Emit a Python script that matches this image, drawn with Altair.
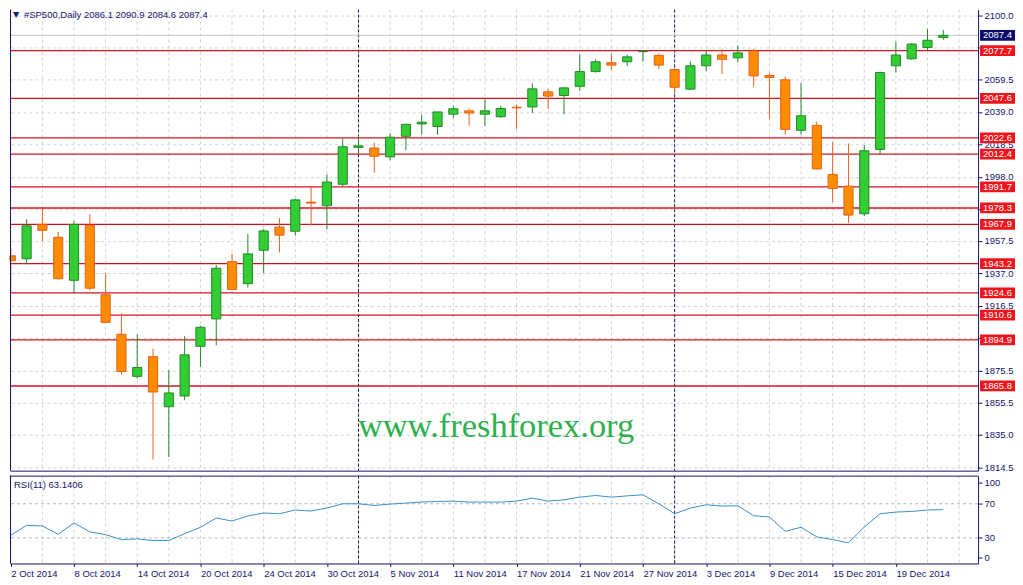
import altair as alt
import pandas as pd

# ---------------- data ----------------
opens = [1948.1, 1946.2, 1967.9, 1959.8, 1932.6, 1967.3, 1923.5, 1898.5, 1871.9, 1884.3,
         1852.7, 1859.5, 1890.9, 1908.2, 1944.4, 1930.5, 1951.6, 1966.2, 1963.6, 1982.0,
         1979.7, 1993.3, 2016.6, 2016.2, 2010.6, 2023.6, 2031.4, 2029.8, 2037.6, 2039.7,
         2037.6, 2036.0, 2042.0, 2042.2, 2051.7, 2049.4, 2055.2, 2064.5, 2070.1, 2070.7,
         2077.1, 2074.8, 2065.8, 2053.4, 2068.2, 2075.0, 2073.2, 2077.5, 2062.0, 2059.3,
         2027.4, 2030.5, 1999.5, 1992.1, 1974.7, 2015.3, 2068.2, 2072.6, 2079.7, 2086.1]
highs = [1953.0, 1971.2, 1977.8, 1963.1, 1969.9, 1974.3, 1937.1, 1911.7, 1898.5, 1889.4,
         1875.8, 1897.3, 1903.9, 1942.3, 1949.5, 1961.9, 1965.0, 1971.8, 1984.2, 1991.6,
         1999.5, 2022.2, 2025.2, 2019.5, 2025.5, 2031.7, 2037.4, 2039.1, 2043.0, 2041.2,
         2046.9, 2042.8, 2043.6, 2057.1, 2053.6, 2054.8, 2075.4, 2072.1, 2075.8, 2075.2,
         2077.9, 2075.8, 2066.6, 2071.1, 2077.9, 2078.9, 2080.8, 2078.9, 2063.9, 2061.4,
         2057.1, 2032.9, 2020.1, 2019.1, 2018.1, 2064.5, 2083.3, 2082.5, 2091.3, 2090.9]
lows = [1924.7, 1942.7, 1957.1, 1933.0, 1924.1, 1926.2, 1905.5, 1872.9, 1870.4, 1819.3,
        1820.9, 1856.8, 1877.9, 1891.5, 1926.4, 1928.0, 1937.1, 1950.3, 1960.8, 1967.3,
        1964.8, 1992.2, 2012.7, 2000.5, 2008.5, 2014.7, 2024.6, 2024.6, 2035.0, 2030.2,
        2030.2, 2035.2, 2028.3, 2038.3, 2041.0, 2037.6, 2052.5, 2063.9, 2065.5, 2068.0,
        2070.7, 2066.1, 2050.5, 2053.0, 2064.9, 2063.0, 2070.3, 2054.8, 2034.5, 2024.6,
        2024.6, 2002.3, 1981.9, 1968.9, 1973.2, 2012.2, 2063.9, 2072.0, 2077.9, 2084.6]
closes = [1945.0, 1967.0, 1964.2, 1933.6, 1967.9, 1927.6, 1906.0, 1875.0, 1877.5, 1862.0,
          1861.4, 1885.5, 1902.9, 1940.2, 1926.8, 1949.3, 1963.8, 1961.1, 1983.4, 1981.4,
          1994.7, 2017.0, 2017.6, 2011.0, 2023.0, 2031.1, 2032.5, 2039.0, 2041.0, 2038.3,
          2039.7, 2041.2, 2041.6, 2053.6, 2049.0, 2054.2, 2064.5, 2070.7, 2068.6, 2073.8,
          2077.4, 2068.6, 2054.6, 2068.2, 2075.0, 2072.3, 2076.3, 2061.8, 2060.8, 2028.0,
          2036.6, 2003.0, 1990.6, 1973.8, 2014.5, 2063.9, 2075.0, 2081.9, 2084.3, 2087.4]
rsi_values = [33.0, 44.7, 44.0, 34.2, 47.5, 37.0, 33.8, 28.0, 28.8, 26.9,
              26.9, 35.0, 42.4, 53.3, 49.8, 55.7, 59.2, 58.3, 62.7, 61.5,
              65.0, 70.0, 70.0, 68.0, 69.6, 70.8, 72.0, 72.7, 73.1, 72.0,
              72.0, 72.0, 73.1, 76.6, 73.1, 74.7, 77.8, 79.7, 77.8, 79.3,
              80.5, 70.0, 58.3, 65.0, 68.8, 67.3, 67.7, 56.0, 54.5, 37.7,
              42.4, 31.2, 28.0, 24.2, 42.8, 58.3, 60.3, 61.0, 62.7, 63.1406]
levels = [2077.7, 2047.6, 2022.6, 2012.4, 1991.7, 1978.3, 1967.9, 1943.2,
          1924.6, 1910.6, 1894.9, 1865.8]
current_price = 2087.4
price_ticks = [2100.0, 2079.5, 2059.5, 2039.0, 2018.5, 1998.0, 1977.5, 1957.5,
               1937.0, 1916.5, 1896.0, 1875.5, 1855.5, 1835.0, 1814.5]
covered_ticks = [2079.5, 1977.5, 1896.0]   # labels hidden behind the red level boxes
date_labels = ["2 Oct 2014", "8 Oct 2014", "14 Oct 2014", "20 Oct 2014", "24 Oct 2014",
               "30 Oct 2014", "5 Nov 2014", "11 Nov 2014", "17 Nov 2014", "21 Nov 2014",
               "27 Nov 2014", "3 Dec 2014", "9 Dec 2014", "15 Dec 2014", "19 Dec 2014"]
label_bars = [0, 4, 8, 12, 16, 20, 24, 28, 32, 36, 40, 44, 48, 52, 56]
grid_bars = list(range(0, 61, 2))
month_starts = [22, 42]
rsi_levels = [30, 70]
title_text = "#SP500,Daily  2086.1 2090.9 2084.6 2087.4"
rsi_title = "RSI(11) 63.1406"
watermark = "www.freshforex.org"

# ---------------- styling ----------------
W, H1, H2 = 970, 462, 88
NAVY = "#15156b"
GRID = "#d2d2d2"
FONT = "Liberation Sans"
UP_FILL, UP_LINE = "#32cd32", "#23892a"
DN_FILL, DN_LINE = "#ff8c00", "#e5621c"
RED_LINE, RED_BOX = "#d0141e", "#f0141a"
HALF_BODY = 0.29   # half candle body, in bar units

n = len(opens)
candles = pd.DataFrame({
    "idx": list(range(n)), "open": opens, "high": highs, "low": lows, "close": closes,
})
candles["dir"] = ["up" if c >= o else "down" for o, c in zip(opens, closes)]
candles["xl"] = candles["idx"] - HALF_BODY
candles["xr"] = candles["idx"] + HALF_BODY

lvl = pd.DataFrame({"level": levels})
lvl["label"] = [f"{v:.1f}" for v in levels]
lvl["lo"] = lvl["level"] - 3.4
lvl["hi"] = lvl["level"] + 3.4
cur = pd.DataFrame({"level": [current_price], "label": [f"{current_price:.1f}"]})
cur["lo"] = cur["level"] - 3.4
cur["hi"] = cur["level"] + 3.4
grid_df = pd.DataFrame({"idx": grid_bars})
month_df = pd.DataFrame({"idx": month_starts})
rsi_df = pd.DataFrame({"idx": list(range(n)), "rsi": rsi_values})
rsi_lvl_df = pd.DataFrame({"lvl": rsi_levels})
one = pd.DataFrame({"k": [0]})

xs = alt.Scale(domain=[-0.05, 61.2], nice=False, zero=False, clamp=True)
ys = alt.Scale(domain=[1812.3, 2103.7], nice=False, zero=False)
covered_arr = "[" + ",".join(str(v) for v in covered_ticks) + "]"
xax_main = alt.Axis(labels=False, ticks=False, grid=False, domain=True,
                    domainColor=NAVY, title=None)
yax_main = alt.Axis(orient="right", values=price_ticks,
                    labelExpr=f"indexof({covered_arr}, datum.value) >= 0 ? '' : format(datum.value, '.1f')",
                    grid=True, gridColor=GRID, gridDash=[3, 3], tickColor=NAVY, tickSize=4,
                    domainColor=NAVY, labelColor=NAVY, labelFont=FONT, labelFontSize=9.5,
                    labelPadding=2, title=None)
dir_stroke = alt.Stroke("dir:N", scale=alt.Scale(domain=["up", "down"], range=[UP_LINE, DN_LINE]), legend=None)
dir_fill = alt.Fill("dir:N", scale=alt.Scale(domain=["up", "down"], range=[UP_FILL, DN_FILL]), legend=None)

vgrid = alt.Chart(grid_df).mark_rule(color=GRID, strokeDash=[3, 3]).encode(
    x=alt.X("idx:Q", scale=xs, axis=xax_main))
months = alt.Chart(month_df).mark_rule(color=NAVY, strokeDash=[3, 2]).encode(
    x=alt.X("idx:Q", scale=xs, axis=xax_main))
lines = alt.Chart(lvl).mark_rule(color=RED_LINE, strokeWidth=1.3).encode(
    y=alt.Y("level:Q", scale=ys, axis=yax_main))
bid = alt.Chart(cur).mark_rule(color="#c4c4c4").encode(
    y=alt.Y("level:Q", scale=ys, axis=yax_main))
wicks = alt.Chart(candles).mark_rule(strokeWidth=1).encode(
    x=alt.X("idx:Q", scale=xs, axis=xax_main),
    y=alt.Y("low:Q", scale=ys, axis=yax_main), y2="high:Q", stroke=dir_stroke)
bodies = alt.Chart(candles).mark_rect(strokeWidth=1).encode(
    x=alt.X("xl:Q", scale=xs, axis=xax_main), x2="xr:Q",
    y=alt.Y("open:Q", scale=ys, axis=yax_main), y2="close:Q",
    fill=dir_fill, stroke=dir_stroke)
wm = alt.Chart(one).mark_text(font="Liberation Serif", fontSize=34.5, color="#2eb04c",
                              align="center", baseline="alphabetic").encode(
    x=alt.value(487), y=alt.value(428), text=alt.value(watermark))
boxes = alt.Chart(lvl).mark_rect(color=RED_BOX).encode(
    x=alt.value(W + 2), x2=alt.value(W + 37),
    y=alt.Y("lo:Q", scale=ys, axis=yax_main), y2="hi:Q")
box_txt = alt.Chart(lvl).mark_text(color="white", font=FONT, fontSize=9.5,
                                   align="center", baseline="middle").encode(
    x=alt.value(W + 19.5), y=alt.Y("level:Q", scale=ys, axis=yax_main), text="label:N")
cur_box = alt.Chart(cur).mark_rect(color="#0b0b6e").encode(
    x=alt.value(W + 2), x2=alt.value(W + 37),
    y=alt.Y("lo:Q", scale=ys, axis=yax_main), y2="hi:Q")
cur_txt = alt.Chart(cur).mark_text(color="white", font=FONT, fontSize=9.5,
                                   align="center", baseline="middle").encode(
    x=alt.value(W + 19.5), y=alt.Y("level:Q", scale=ys, axis=yax_main), text="label:N")
tri = alt.Chart(one).mark_text(color=NAVY, font="DejaVu Sans", fontSize=8,
                               align="center", baseline="middle").encode(
    x=alt.value(6), y=alt.value(5), text=alt.value("▼"))
ttl = alt.Chart(one).mark_text(color=NAVY, font=FONT, fontSize=9.5,
                               align="left", baseline="middle").encode(
    x=alt.value(14), y=alt.value(5), text=alt.value(title_text))
lborder = alt.Chart(one).mark_rule(color=NAVY).encode(
    x=alt.value(0.5), y=alt.value(0), y2=alt.value(H1))

main = alt.layer(vgrid, months, lines, bid, wicks, bodies, wm, boxes, box_txt,
                 cur_box, cur_txt, tri, ttl, lborder).properties(width=W, height=H1)

# ---------------- RSI panel ----------------
ry = alt.Scale(domain=[0, 103], nice=False, zero=False)
lab_arr = "[" + ",".join(f"'{s}'" for s in date_labels) + "]"
bar_arr = "[" + ",".join(str(b) for b in label_bars) + "]"
xax_rsi = alt.Axis(values=label_bars, labelExpr=f"{lab_arr}[indexof({bar_arr}, datum.value)]",
                   labelAlign="left", labelBaseline="top", labelPadding=2, labelColor=NAVY,
                   labelFont=FONT, labelFontSize=9.5, tickColor=NAVY, tickSize=3,
                   domainColor=NAVY, grid=False, title=None, labelOverlap=False)
yax_rsi = alt.Axis(orient="right", values=[6.6, 30, 70, 94.5],
                   labelExpr="datum.value > 90 ? '100' : (datum.value < 10 ? '0' : format(datum.value, 'd'))",
                   grid=False, tickColor=NAVY, tickSize=4, domainColor=NAVY, labelColor=NAVY,
                   labelFont=FONT, labelFontSize=9.5, labelPadding=2, title=None)

r_vgrid = alt.Chart(grid_df).mark_rule(color=GRID, strokeDash=[3, 3]).encode(
    x=alt.X("idx:Q", scale=xs, axis=xax_rsi))
r_months = alt.Chart(month_df).mark_rule(color=NAVY, strokeDash=[3, 2]).encode(
    x=alt.X("idx:Q", scale=xs, axis=xax_rsi))
r_lvls = alt.Chart(rsi_lvl_df).mark_rule(color="#b2b2b2", strokeDash=[3, 3]).encode(
    y=alt.Y("lvl:Q", scale=ry, axis=yax_rsi))
r_line = alt.Chart(rsi_df).mark_line(color="#3a8fd0", strokeWidth=1).encode(
    x=alt.X("idx:Q", scale=xs, axis=xax_rsi), y=alt.Y("rsi:Q", scale=ry, axis=yax_rsi))
r_ttl = alt.Chart(one).mark_text(color=NAVY, font=FONT, fontSize=9.5,
                                 align="left", baseline="middle").encode(
    x=alt.value(4), y=alt.value(9), text=alt.value(rsi_title))
r_top = alt.Chart(one).mark_rule(color=NAVY).encode(
    x=alt.value(0), x2=alt.value(W), y=alt.value(0.5))
r_left = alt.Chart(one).mark_rule(color=NAVY).encode(
    x=alt.value(0.5), y=alt.value(0), y2=alt.value(H2))

rsi = alt.layer(r_vgrid, r_months, r_lvls, r_line, r_ttl, r_top, r_left).properties(
    width=W, height=H2)

chart = alt.vconcat(main, rsi, spacing=2).properties(
    padding=0, background="white"
).configure_view(strokeWidth=0)

chart.save("out.html", embed_options={"renderer": "svg", "actions": False})
